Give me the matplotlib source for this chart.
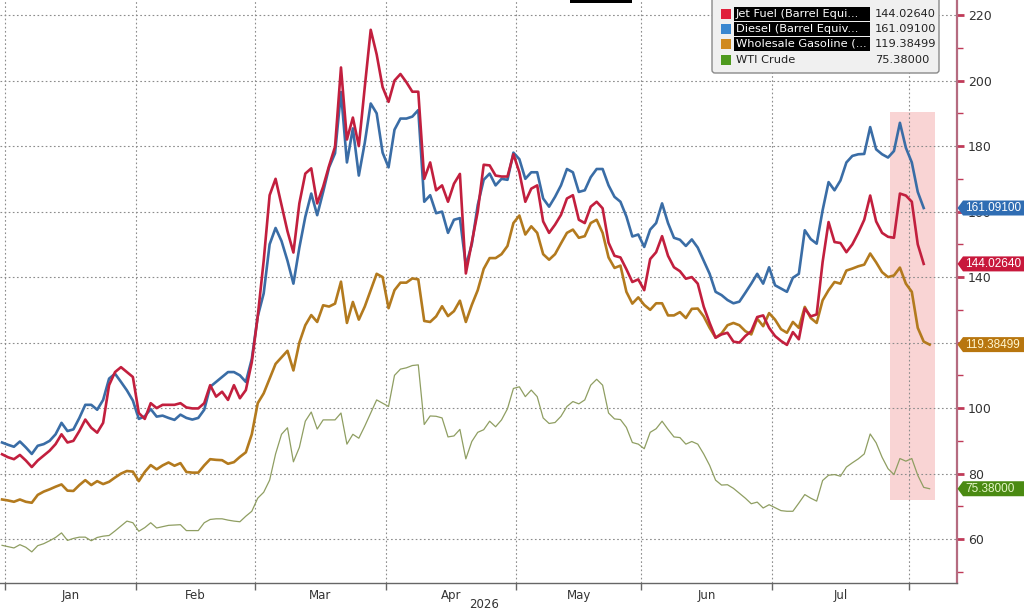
import numpy as np
import pandas as pd
import matplotlib
matplotlib.use("Agg")
import matplotlib.pyplot as plt
from matplotlib.patches import Rectangle, Polygon, FancyBboxPatch
from matplotlib.ticker import MultipleLocator, FixedLocator, NullFormatter, FixedFormatter

# ---------------- data (business days from 2025-12-31) ----------------
dates = pd.bdate_range("2025-12-31", periods=157)

diesel = [89.5, 88.8, 88.2, 89.8, 88, 86, 88.5, 89, 90, 92, 95.5,
          93, 93.5, 97, 101, 101, 99.5, 102.5, 109, 110.5, 108,
          105.4, 102.3, 96.7, 97.5, 99.7, 97.4, 97.7, 97, 96.4, 98,
          97, 96.5, 97, 99.5, 106.5, 108, 109.5, 111, 111, 110,
          108, 115, 128, 135, 150, 155, 151, 145, 138, 149,
          158.4, 165.5, 158.9, 166, 173.5, 177.8, 196.5, 175, 185.4, 171,
          181, 193, 190, 178, 173.5, 185, 188.4, 188.4, 189, 191,
          163, 165, 159.5, 160, 153.5, 157.5, 158, 143.5, 150, 162,
          169.7, 171.6, 168, 170, 169.7, 178, 176, 170, 172, 172,
          164, 161.5, 164.5, 168, 173, 172, 166, 166.5, 170.5, 173,
          173, 168, 164.5, 163, 158.5, 152.4, 153, 149.2, 154.5, 156.5,
          162.5, 156.5, 152, 151.4, 149.5, 151.5, 149, 145, 141, 135.5,
          134.5, 133, 132, 132.5, 135.2, 138, 141, 138, 143, 137.5,
          136.5, 135.5, 139.8, 141, 154.3, 151.6, 150.2, 160.4, 169, 166.5,
          169.5, 175, 177, 177.5, 177.6, 185.8, 179, 177.5, 176.5, 178.5,
          187.1, 179.5, 175, 166, 161.091]

jet = [85.9, 85, 84.4, 85.7, 84, 82, 84, 85.5, 87, 89, 92,
       89.5, 90, 93, 96.5, 94, 92.5, 95.5, 107, 111, 112.5,
       111, 109.5, 98.5, 96.7, 101.5, 100, 101, 101, 101, 101.5,
       100.2, 99.9, 99.9, 101.5, 107, 103.5, 105, 102.5, 107, 103,
       105.5, 114, 128, 145, 165, 170, 162, 154, 147.5, 162.5,
       171.6, 173.2, 162.5, 167.6, 174, 179.8, 204, 182, 188.7, 180,
       198, 215.5, 208, 198, 193.5, 200, 202, 199.5, 196.6, 196.6,
       170, 175, 166.5, 168, 163, 168.5, 171.5, 141.1, 150.5, 160,
       174.3, 174.1, 171, 170.7, 170.7, 177.5, 172, 163, 167, 168,
       157, 153.5, 156, 159, 164, 165, 157.5, 156.5, 161.5, 163,
       161, 150.5, 146.5, 146, 142.4, 138.5, 139.3, 136, 145.5, 147.6,
       152.5, 146.5, 143, 141.8, 139.5, 140, 138, 131, 126, 121.5,
       122.5, 123, 120.3, 120, 122, 123.5, 127.8, 128.3, 124.5, 122,
       120.5, 119.3, 123.2, 121, 130.4, 128, 128.6, 144.6, 156.8, 150.7,
       150.4, 147.6, 150, 153.5, 157.5, 164.9, 157, 153.5, 152.3, 152,
       165.5, 164.9, 163, 150, 144.0264]

gasoline = [72.1, 71.8, 71.4, 72.1, 71.4, 71.1, 73.5, 74.5, 75.2, 76, 76.7,
            74.8, 74.7, 76.5, 78, 76.5, 77.7, 76.8, 77.5, 78.8, 80,
            80.8, 80.6, 77.7, 80.5, 82.6, 81.3, 82.5, 83.4, 82.4, 83.2,
            80.5, 80.3, 80.3, 82.5, 84.4, 84.2, 84.1, 83, 83.5, 85.1,
            86.5, 92, 101.5, 104.5, 109, 113.5, 115.5, 117.5, 111.5, 120,
            125.3, 128.4, 126.3, 131.4, 131, 131.9, 138.6, 126, 132.4, 127,
            131, 136, 141, 140, 130.5, 136, 138.3, 138.3, 139.6, 139.3,
            126.6, 126.3, 128, 131.1, 128.1, 129.6, 132.8, 126.3, 131.5, 136,
            142.5, 145.8, 145.8, 147, 149.5, 156.5, 158.8, 153, 155.5, 153.5,
            147, 145.3, 147, 150.3, 153.5, 154.5, 152, 152.5, 156.5, 157.5,
            153.5, 146, 142.8, 143.5, 135.5, 131.9, 133.8, 131.5, 130, 132,
            132, 128.3, 128.3, 129.3, 127.5, 130.3, 130.4, 128, 124.5, 121.5,
            122.8, 125.3, 126, 125.3, 123.5, 122.5, 127.3, 125, 129, 127,
            124.1, 123, 126.3, 124.5, 130.9, 127.5, 126, 132.9, 136, 138.5,
            138, 142, 142.6, 143.3, 143.8, 147.2, 144.5, 141.5, 140, 140.5,
            142.9, 138, 135.5, 124.5, 120.3, 119.38499]

wti = [58.1, 57.7, 57.3, 58.3, 57.5, 56.1, 58, 58.6, 59.5, 60.5, 61.9,
       59.6, 60.2, 60.6, 60.6, 59.5, 60.5, 60.9, 61.1, 62.5, 64,
       65.5, 65, 62.4, 63.5, 65, 63.4, 63.8, 64.2, 64.3, 64.4,
       62.6, 62.6, 62.6, 65, 66, 66.2, 66.2, 65.8, 65.5, 65.3,
       67, 68.5, 72.5, 74.3, 78, 86, 92, 94, 83.6, 88,
       96, 98.8, 93.6, 96.4, 96.4, 96.4, 98.5, 89, 92, 90.8,
       94.5, 98.5, 102.5, 101.5, 100.5, 110, 111.9, 112.3, 113, 113.2,
       95, 97.6, 97.5, 97, 91.2, 91.5, 93.5, 84.5, 89.8, 92.6,
       93.4, 96, 94.3, 96.4, 99.8, 106, 106.5, 103.5, 105.5, 103.5,
       97, 95.3, 95.6, 97.5, 100.5, 102, 101.3, 102.5, 107, 108.8,
       107, 98.5, 96.7, 96.5, 94.1, 89.5, 89, 87.6, 92.6, 93.7,
       96, 93.5, 91.2, 91, 89, 89.8, 89, 86, 82.5, 78,
       76.5, 76.6, 75.5, 74, 72.5, 70.8, 71.3, 69.5, 70.5, 69.6,
       68.7, 68.5, 68.5, 71, 73.6, 72.5, 71.6, 77.9, 79.5, 79.7,
       79.2, 82, 83.3, 84.5, 86, 92.1, 89.4, 85, 81.5, 79.7,
       84.6, 83.8, 84.6, 79.5, 75.8, 75.38]

series_names = ["Jet Fuel (Barrel Equi...", "Diesel (Barrel Equiv...",
                "Wholesale Gasoline (...", "WTI Crude"]
last_labels = ["144.02640", "161.09100", "119.38499", "75.38000"]
month_labels = ["Jan", "Feb", "Mar", "Apr", "May", "Jun", "Jul"]
year_label = "2026"
y_ticks = [60, 80, 100, 120, 140, 160, 180, 200, 220]

# highlighted window (shaded box)
shade_x = (149.3, 156.9)
shade_y = (71.9, 190.4)

# ---------------- helpers ----------------
def pad(vals, n):
    a = np.full(n, np.nan)
    a[:len(vals)] = vals
    return a

n = len(dates)
pos = np.arange(n)
D = pad(diesel, n); J = pad(jet, n); G = pad(gasoline, n); W = pad(wti, n)

# month boundaries / centers from the trading-day calendar
starts = []
for m in range(1, 9):
    idx = np.where((dates.year == 2026) & (dates.month == m))[0]
    starts.append(idx[0])
bounds = [s - 0.5 for s in starts]
centers = [(starts[i] + starts[i + 1]) / 2 - 0.5 for i in range(7)]

# ---------------- figure ----------------
W_PX, H_PX = 1024, 613
fig = plt.figure(figsize=(W_PX / 100, H_PX / 100), dpi=100)
ax = fig.add_axes([0, 30 / H_PX, 957 / W_PX, 583 / H_PX])
ax.set_xlim(-0.345, 160.6)
ax.set_ylim(46.6, 224.6)
ax.set_axisbelow(True)

c_jet, c_dsl, c_gas, c_wti = "#c21f3e", "#3a6da6", "#b37a1e", "#8f9e62"

ax.add_patch(Rectangle((shade_x[0], shade_y[0]), shade_x[1] - shade_x[0],
                       shade_y[1] - shade_y[0], fc="#f9d4d4", ec="none", zorder=0.3))

ax.plot(pos, W, color=c_wti, lw=0.9, zorder=2)
ax.plot(pos, G, color=c_gas, lw=1.9, zorder=3)
ax.plot(pos, D, color=c_dsl, lw=1.9, zorder=4)
ax.plot(pos, J, color=c_jet, lw=1.9, zorder=5)

# y axis on the right
ax.yaxis.tick_right()
ax.yaxis.set_major_locator(FixedLocator(y_ticks))
ax.yaxis.set_minor_locator(MultipleLocator(10))
ax.tick_params(axis="y", which="major", length=5, width=2, color="#c03a58",
               labelsize=9, labelcolor="#333333", pad=3)
ax.tick_params(axis="y", which="minor", length=4, width=1, color="#c03a58")

# x axis
ax.xaxis.set_major_locator(FixedLocator(bounds))
ax.xaxis.set_major_formatter(NullFormatter())
ax.xaxis.set_minor_locator(FixedLocator(centers))
ax.xaxis.set_minor_formatter(FixedFormatter(month_labels))
ax.tick_params(axis="x", which="major", length=5, width=1, color="#666666")
ax.tick_params(axis="x", which="minor", length=0, labelsize=8.5,
               labelcolor="#333333", pad=4)

ax.grid(axis="y", which="major", ls=(0, (1.5, 2.2)), color="#8c8c8c", lw=0.8)
ax.grid(axis="x", which="major", ls=(0, (1.5, 2.2)), color="#8c8c8c", lw=0.8)

for s in ["left", "top"]:
    ax.spines[s].set_visible(False)
ax.spines["right"].set_color("#b56b80")
ax.spines["right"].set_linewidth(1.6)
ax.spines["bottom"].set_color("#666666")
ax.spines["bottom"].set_linewidth(1.0)

# ---------------- overlay in pixel coordinates ----------------
ov = fig.add_axes([0, 0, 1, 1], zorder=10)
ov.set_xlim(0, W_PX)
ov.set_ylim(H_PX, 0)
ov.axis("off")
ov.patch.set_alpha(0)

ov.text(484, 605, year_label, ha="center", va="center", fontsize=8.5, color="#333333")
ov.add_patch(Rectangle((570, 0), 62, 2.5, fc="black", ec="none"))

# legend box
ov.add_patch(FancyBboxPatch((712, -6), 227, 79, boxstyle="round,pad=0,rounding_size=3",
                            fc="#f0f0f0", ec="#8a8a8a", lw=1))
leg_sq = ["#e0203c", "#3a87d0", "#d08a20", "#4e9a1e"]
rows = [14, 29, 44, 60]
for k, (nm, val, col, y) in enumerate(zip(series_names, last_labels, leg_sq, rows)):
    ov.add_patch(Rectangle((721, y - 5), 10, 10, fc=col, ec="none"))
    if k < 3:
        ov.add_patch(Rectangle((734, y - 7), 136, 14, fc="black", ec="none"))
        tc = "white"
    else:
        tc = "#222222"
    ov.text(736, y, nm, ha="left", va="center", fontsize=8.2, color=tc)
    ov.text(875, y, val, ha="left", va="center", fontsize=8.2, color="#222222")

# last-value tags on the right axis
tags = [(diesel[-1], last_labels[1], "#2f6db3", "white"),
        (jet[-1], last_labels[0], "#c8183c", "white"),
        (gasoline[-1], last_labels[2], "#b8760e", "#fff6d0"),
        (wti[-1], last_labels[3], "#4a8a12", "#e6f6c8")]
for v, lab, bg, fg in tags:
    yp = H_PX - ax.transData.transform((0, v))[1]
    ov.add_patch(Polygon([(957.5, yp), (963, yp - 7.5), (1024, yp - 7.5),
                          (1024, yp + 7.5), (963, yp + 7.5)], closed=True,
                         fc=bg, ec="none"))
    ov.text(965, yp, lab, ha="left", va="center", fontsize=8.5,
            family="Liberation Sans", color=fg)

fig.savefig("out.png", dpi=100)
